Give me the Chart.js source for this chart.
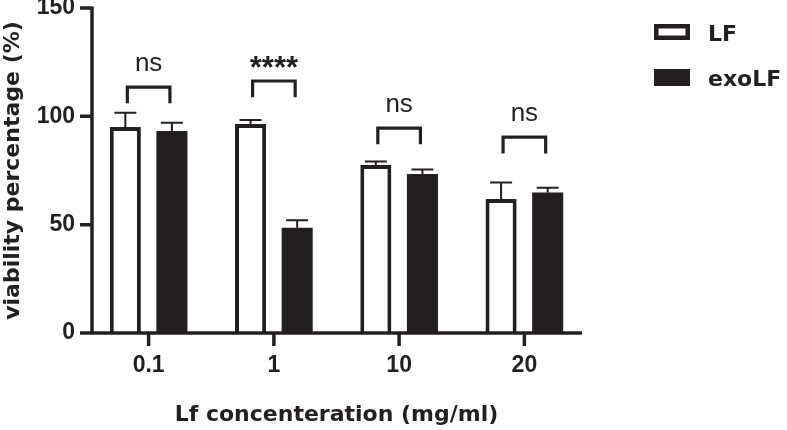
<!DOCTYPE html>
<html>
<head>
<meta charset="utf-8">
<script src="https://cdn.jsdelivr.net/npm/chart.js@4"></script>
<style>
  body { margin: 0; background: #fff; }
  #wrap { width: 787px; height: 430px; }
</style>
</head>
<body>
<div id="wrap"><canvas id="viability" width="787" height="430"></canvas></div>
<script>
// data block
const concentrations = ["0.1", "1", "10", "20"];
const lfValues = [95.1, 96.5, 77.5, 61.8];
const lfErrors = [6.5, 1.8, 1.7, 7.7];
const exoValues = [93.2, 48.6, 73.4, 64.8];
const exoErrors = [3.8, 3.4, 2.1, 2.2];
const sigLabels = ["ns", "****", "ns", "ns"];
const sigBracketTop = [113.5, 116.3, 94.6, 90.4];
const yTicks = [0, 50, 100, 150];

const ink = "#231f20";

// axes, error bars, brackets and legend drawn on top of the bars
const prismExtras = {
  id: "prismExtras",
  afterDatasetsDraw(chart) {
    const ctx = chart.ctx;
    const x = chart.scales.x;
    const y = chart.scales.y;
    const lfMeta = chart.getDatasetMeta(0);
    const exoMeta = chart.getDatasetMeta(1);
    ctx.save();
    ctx.strokeStyle = ink;
    ctx.lineCap = "butt";

    // error bars (upper only)
    ctx.lineWidth = 2;
    [[lfMeta, lfValues, lfErrors], [exoMeta, exoValues, exoErrors]].forEach(([meta, vals, errs]) => {
      meta.data.forEach((bar, i) => {
        const top = y.getPixelForValue(vals[i] + errs[i]);
        const base = y.getPixelForValue(vals[i]);
        ctx.beginPath();
        ctx.moveTo(bar.x, base);
        ctx.lineTo(bar.x, top);
        ctx.moveTo(bar.x - 11, top);
        ctx.lineTo(bar.x + 11, top);
        ctx.stroke();
      });
    });

    // axes
    ctx.lineWidth = 3.5;
    const y0 = y.getPixelForValue(0);
    const axisX = 92;
    ctx.beginPath();
    ctx.moveTo(axisX, y.getPixelForValue(150) - 1.5);
    ctx.lineTo(axisX, y0);
    ctx.moveTo(80, y0);
    ctx.lineTo(582, y0);
    yTicks.forEach((t) => {
      const py = y.getPixelForValue(t);
      ctx.moveTo(80, py);
      ctx.lineTo(axisX, py);
    });
    concentrations.forEach((c, i) => {
      const px = x.getPixelForValue(i);
      ctx.moveTo(px, y0);
      ctx.lineTo(px, y0 + 13);
    });
    ctx.stroke();

    // significance brackets
    ctx.lineWidth = 3.2;
    ctx.fillStyle = ink;
    ctx.textAlign = "center";
    ctx.textBaseline = "alphabetic";
    sigLabels.forEach((label, i) => {
      const left = lfMeta.data[i].x + 2;
      const right = exoMeta.data[i].x - 2;
      const top = y.getPixelForValue(sigBracketTop[i]);
      const leg = y.getPixelForValue(sigBracketTop[i] - 7.5);
      ctx.beginPath();
      ctx.moveTo(left, leg);
      ctx.lineTo(left, top);
      ctx.lineTo(right, top);
      ctx.lineTo(right, leg);
      ctx.stroke();
      const mid = (left + right) / 2;
      if (label === "ns") {
        ctx.font = "26px 'Liberation Sans', Arial, sans-serif";
        ctx.fillText(label, mid, top - 16);
      } else {
        ctx.font = "bold 31px 'Liberation Sans', Arial, sans-serif";
        ctx.fillText(label, mid, top - 3);
      }
    });
    ctx.restore();
  },
  afterDraw(chart) {
    // legend
    const ctx = chart.ctx;
    ctx.save();
    ctx.fillStyle = ink;
    ctx.strokeStyle = ink;
    ctx.lineWidth = 4.5;
    ctx.strokeRect(656.25, 26.25, 31.5, 11.5);
    ctx.fillRect(654, 69, 36, 17);
    ctx.font = "bold 22px 'DejaVu Sans', sans-serif";
    ctx.textAlign = "left";
    ctx.textBaseline = "alphabetic";
    ctx.fillText(chart.data.datasets[0].label, 708, 41);
    ctx.fillText(chart.data.datasets[1].label, 708, 86);
    ctx.restore();
  },
};

const data = {
  labels: concentrations,
  datasets: [
    {
      label: "LF",
      data: lfValues,
      backgroundColor: "#ffffff",
      borderColor: ink,
      borderWidth: 4,
      categoryPercentage: 0.744,
      barPercentage: 0.667,
    },
    {
      label: "exoLF",
      data: exoValues,
      backgroundColor: ink,
      borderWidth: 0,
      categoryPercentage: 0.744,
      barPercentage: 0.667,
    },
  ],
};

const config = {
  type: "bar",
  data,
  options: {
    responsive: false,
    animation: false,
    layout: { padding: { left: 0, right: 200, top: 8, bottom: 0 } },
    plugins: { legend: { display: false }, tooltip: { enabled: false } },
    scales: {
      x: {
        grid: { display: false, drawTicks: false, tickLength: 0 },
        border: { display: false },
        ticks: {
          color: ink,
          padding: 19,
          font: { family: "'Liberation Sans', Arial, sans-serif", size: 23, weight: "bold" },
        },
        title: {
          display: true,
          text: "Lf concenteration (mg/ml)",
          color: ink,
          padding: { top: 0, bottom: 2 },
          font: { family: "'DejaVu Sans', sans-serif", size: 22, weight: "bold" },
        },
        afterFit(scale) {
          scale.height = 97;
          scale.paddingLeft = 0;
          scale.paddingRight = 0;
        },
      },
      y: {
        min: 0,
        max: 150,
        grid: { display: false, drawTicks: false, tickLength: 0 },
        border: { display: false },
        ticks: {
          stepSize: 50,
          color: ink,
          padding: 11,
          font: { family: "'Liberation Sans', Arial, sans-serif", size: 23, weight: "bold" },
        },
        title: {
          display: true,
          text: "viability percentage (%)",
          color: ink,
          padding: { top: 0, bottom: 0 },
          font: { family: "'DejaVu Sans', sans-serif", size: 22, weight: "bold" },
        },
        afterFit(scale) {
          scale.width = 86;
          scale.paddingTop = 0;
          scale.paddingBottom = 0;
        },
      },
    },
  },
  plugins: [prismExtras],
};

const viabilityChart = new Chart(document.getElementById("viability"), config);
</script>
</body>
</html>
